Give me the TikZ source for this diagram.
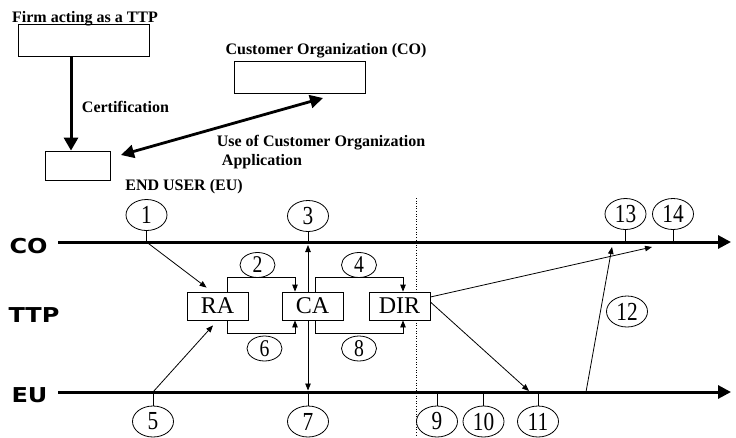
\documentclass[tikz,border=0pt]{standalone}
\usepackage{graphicx}
\usepackage{fontspec}
\setmainfont{Liberation Serif}
\newfontfamily\lanefont{DejaVu Sans}
\usetikzlibrary{shapes.geometric,arrows.meta}
\newcommand\nmtxt[1]{\scalebox{0.82}[1]{#1}}
\begin{document}
\begin{tikzpicture}[x=1pt,y=-1pt,
  bigbox/.style={draw, line width=0.8pt, inner sep=0pt, fill=white},
  abox/.style={draw, line width=0.8pt, fill=white, minimum width=61pt, minimum height=28pt, inner sep=0pt, font=\fontsize{24}{24}\selectfont},
  num/.style={draw, ellipse, line width=0.8pt, fill=white, minimum width=41pt, minimum height=31pt, inner sep=0pt, font=\fontsize{26}{26}\selectfont},
  snum/.style={num, minimum width=35pt, minimum height=25pt, font=\fontsize{24}{24}\selectfont},
  lbl/.style={font=\fontsize{16}{16}\selectfont\bfseries, inner sep=0pt, anchor=base},
  lane/.style={font=\fontsize{20.5}{20.5}\lanefont\bfseries, inner sep=0pt},
  timeline/.style={line width=3pt, -{Triangle[length=13pt,width=13pt]}},
  bigarr/.style={line width=3pt, -{Triangle[length=13pt,width=14pt]}},
  dblarr/.style={line width=2.8pt, {Triangle[length=13pt,width=13pt]}-{Triangle[length=13pt,width=13pt]}},
  arr/.style={line width=0.8pt, -{Triangle[length=7pt,width=5.5pt]}},
  tick/.style={line width=0.8pt}
]
\useasboundingbox (0,0) rectangle (736,437);

% top part
\node[bigbox, minimum width=131pt, minimum height=32pt] (firm) at (83.5,40) {};
\node[lbl] (firmlbl) at (85,22) {Firm acting as a TTP};
\node[bigbox, minimum width=131pt, minimum height=32pt] (cobox) at (299.5,77) {};
\node[lbl] (colbl) at (326,54) {Customer Organization (CO)};
\node[bigbox, minimum width=65pt, minimum height=29pt] (eubox) at (77.5,165.5) {};
\node[lbl] (eulbl) at (184,190) {END USER (EU)};
\node[lbl] (certlbl) at (125.5,112) {Certification};
\node[lbl] (uselbl) at (321,146) {Use of Customer Organization};
\node[lbl] (applbl) at (262,165) {Application};

\coordinate (certx) at (71,0);
\draw[bigarr] (firm.south -| certx) -- (eubox.north -| certx);
\coordinate (ua) at (121,155);
\coordinate (ub) at (323,98);
\draw[dblarr] (ua) -- (ub);

% lanes
\node[lane] (lco) at (28.5,246) {\scalebox{1.17}[1]{CO}};
\node[lane] (lttp) at (34,315) {\scalebox{1.17}[1]{TTP}};
\node[lane] (leu) at (29.5,395) {\scalebox{1.17}[1]{EU}};

\coordinate (cos) at (58,242);
\coordinate (coe) at (731,242);
\coordinate (eus) at (58,392);
\coordinate (eue) at (731,392);

% dotted separator
\coordinate (dt) at (416,198);
\coordinate (db) at (416,437);
\draw[dotted, line width=0.6pt] (dt) -- (db);

\draw[timeline] (cos) -- (coe);
\draw[timeline] (eus) -- (eue);

% boxes
\node[abox] (ra) at (217.5,306) {RA};
\node[abox] (ca) at (312.5,306) {CA};
\node[abox] (dir) at (399.5,306) {DIR};

% numbered circles
\node[num] (n1) at (146.5,215) {\nmtxt{1}};
\node[num] (n3) at (308,216) {\nmtxt{3}};
\node[num] (n13) at (625.5,214) {\nmtxt{13}};
\node[num] (n14) at (673,214) {\nmtxt{14}};
\node[snum] (n2) at (257.5,265) {\nmtxt{2}};
\node[snum] (n4) at (359,265) {\nmtxt{4}};
\node[snum] (n6) at (264.5,348.5) {\nmtxt{6}};
\node[snum] (n8) at (359,348.5) {\nmtxt{8}};
\node[num] (n12) at (627,311.5) {\nmtxt{12}};
\node[num] (n5) at (153,421.5) {\nmtxt{5}};
\node[num] (n7) at (308,421.5) {\nmtxt{7}};
\node[num] (n9) at (437,421.5) {\nmtxt{9}};
\node[num] (n10) at (483.5,421.5) {\nmtxt{10}};
\node[num] (n11) at (538,421.5) {\nmtxt{11}};

% ticks
\draw[tick] (n1.south) -- (n1.south |- cos);
\draw[tick] (n3.south) -- (n3.south |- cos);
\draw[tick] (n13.south) -- (n13.south |- cos);
\draw[tick] (n14.south) -- (n14.south |- cos);
\draw[tick] (n5.north) -- (n5.north |- eus);
\draw[tick] (n7.north) -- (n7.north |- eus);
\draw[tick] (n9.north) -- (n9.north |- eus);
\draw[tick] (n10.north) -- (n10.north |- eus);
\draw[tick] (n11.north) -- (n11.north |- eus);

% loops
\draw[arr] ([xshift=10pt]ra.north) -- ++(0,-14) -| ([xshift=-17.5pt]ca.north);
\draw[arr] ([xshift=2.5pt]ca.north) -- ++(0,-14) -| ([xshift=3.5pt]dir.north);
\draw[arr] ([xshift=10pt]ra.south) -- ++(0,13) -| ([xshift=-17.5pt]ca.south);
\draw[arr] ([xshift=2.5pt]ca.south) -- ++(0,13) -| ([xshift=3.5pt]dir.south);

% CA vertical
\coordinate (cav) at ([xshift=-4.5pt]ca.north);
\coordinate (cavb) at ([xshift=-4.5pt]ca.south);
\draw[arr, shorten >=3pt] (cav) -- (cav |- cos);
\draw[arr, shorten >=1.5pt] (cavb) -- (cavb |- eus);

% diagonal arrows
\draw[arr] (n1.south |- cos) -- ([shift={(20,-4)}]ra.north west);
\draw[arr] (n5.north |- eus) -- ([shift={(-4.5,5)}]ra.south);
\coordinate (dirco) at (652,247);
\coordinate (direu) at (529,391);
\draw[arr] ([yshift=9pt]dir.east) -- (dirco);
\draw[arr] ([yshift=4pt]dir.east) -- (direu);
\coordinate (s12) at (586,392);
\coordinate (e12) at (612,247);
\draw[arr] (s12) -- (e12);
\end{tikzpicture}
\end{document}
